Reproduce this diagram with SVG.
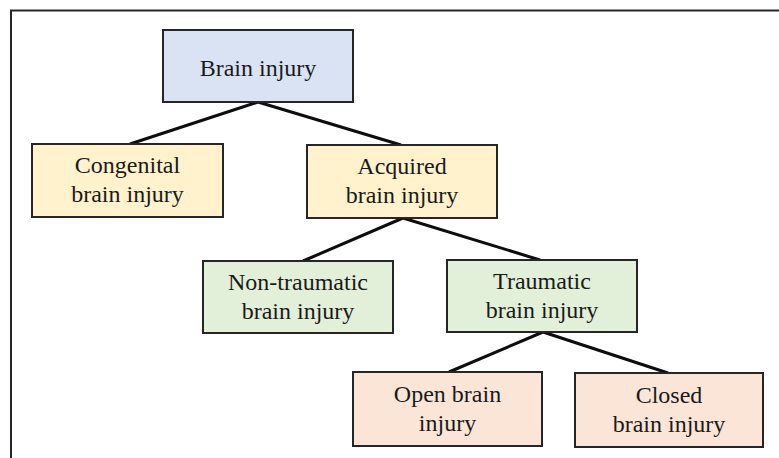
<svg xmlns="http://www.w3.org/2000/svg" width="779" height="458" viewBox="0 0 779 458">
  <style>
    .box { stroke: #262626; stroke-width: 2; }
    .l0 { fill: #dae3f3; }
    .l1 { fill: #fff2cc; }
    .l2 { fill: #e2f0d9; }
    .l3 { fill: #fbe5d6; }
    .lbl { font-family: "Liberation Serif", "Times New Roman", serif; font-size: 24px; fill: #1a1a1a; text-anchor: middle; }
    .edge { stroke: #0d0d0d; stroke-width: 3; fill: none; }
    .frame { stroke: #262626; stroke-width: 2; fill: none; }
  </style>
  <rect width="779" height="458" fill="#ffffff"/>
  <!-- open frame: top and left edges -->
  <path class="frame" d="M11 458 V10.5 H779"/>

  <g id="connectors">
    <line class="edge" x1="258" y1="102" x2="130" y2="144"/>
    <line class="edge" x1="258" y1="102" x2="401" y2="145"/>
    <line class="edge" x1="403" y1="218" x2="303" y2="261"/>
    <line class="edge" x1="403" y1="218" x2="540" y2="260"/>
    <line class="edge" x1="543" y1="332" x2="449" y2="372"/>
    <line class="edge" x1="543" y1="332" x2="668" y2="373"/>
  </g>

  <g id="brain-injury">
    <rect class="box l0" x="163" y="30" width="190" height="72"/>
    <text class="lbl" x="258" y="76">Brain injury</text>
  </g>
  <g id="congenital">
    <rect class="box l1" x="32" y="144" width="191" height="73"/>
    <text class="lbl" x="127.5" y="173">Congenital</text>
    <text class="lbl" x="127.5" y="202">brain injury</text>
  </g>
  <g id="acquired">
    <rect class="box l1" x="307" y="145" width="190" height="73"/>
    <text class="lbl" x="402" y="174">Acquired</text>
    <text class="lbl" x="402" y="203">brain injury</text>
  </g>
  <g id="non-traumatic">
    <rect class="box l2" x="203" y="261" width="190" height="72"/>
    <text class="lbl" x="298" y="290">Non-traumatic</text>
    <text class="lbl" x="298" y="319">brain injury</text>
  </g>
  <g id="traumatic">
    <rect class="box l2" x="447" y="260" width="190" height="72"/>
    <text class="lbl" x="542" y="289">Traumatic</text>
    <text class="lbl" x="542" y="318">brain injury</text>
  </g>
  <g id="open">
    <rect class="box l3" x="353" y="372" width="189" height="74"/>
    <text class="lbl" x="447.5" y="402">Open brain</text>
    <text class="lbl" x="447.5" y="431">injury</text>
  </g>
  <g id="closed">
    <rect class="box l3" x="575" y="373" width="188" height="74"/>
    <text class="lbl" x="669" y="403">Closed</text>
    <text class="lbl" x="669" y="432">brain injury</text>
  </g>
</svg>
